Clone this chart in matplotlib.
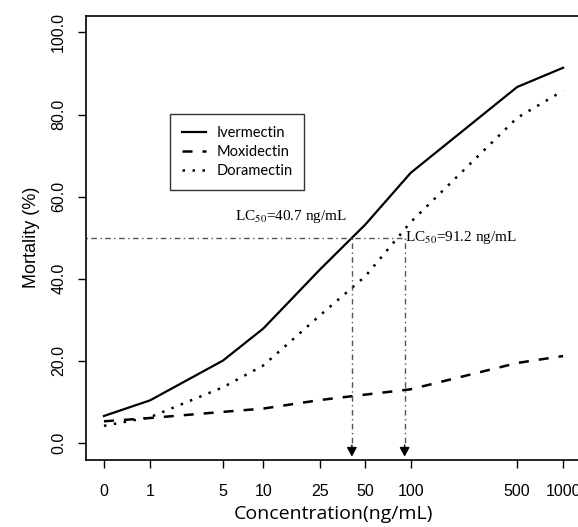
import numpy as np
import matplotlib
matplotlib.use("Agg")
import matplotlib.pyplot as plt

# ---- data ----
conc = [0, 1, 5, 10, 25, 50, 100, 500, 1000]
tick_labels = ["0", "1", "5", "10", "25", "50", "100", "500", "1000"]
ivermectin = [6.6, 10.4, 20.1, 27.9, 42.4, 53.2, 65.8, 86.7, 91.4]
moxidectin = [5.3, 6.1, 7.6, 8.4, 10.5, 11.8, 13.1, 19.5, 21.2]
doramectin = [4.2, 6.3, 13.6, 18.9, 31.2, 40.6, 53.8, 79.2, 85.8]
lc50_iver = 40.7
lc50_dora = 91.2
y_ticks = [0, 20, 40, 60, 80, 100]

plt.rcParams['mathtext.fontset'] = 'stix'

W, H = 578, 527
fig = plt.figure(figsize=(W / 100, H / 100), dpi=100)
left, right, top, bottom = 85.6, 581.4, 16.0, 459.5
ax = fig.add_axes([left / W, 1 - bottom / H, (right - left) / W, (bottom - top) / H])

tx = lambda c: np.log10(np.asarray(c, dtype=float) + 1)
x = tx(conc)

ax.plot(x, ivermectin, color='black', lw=1.6, ls='-', label='Ivermectin')
ax.plot(x, moxidectin, color='black', lw=1.8, ls=(0, (4, 4)), label='Moxidectin')
ax.plot(x, doramectin, color='black', lw=1.8, ls=(0, (1, 3)), label='Doramectin')

ax.set_xlim(-0.12, 3.12)
ax.set_ylim(-4, 104)

# LC50 guide lines
lc_col = '#555555'
dd = (0, (1, 2.5, 4, 2.5))
ax.plot([-0.12, tx(lc50_dora)], [50, 50], color=lc_col, lw=1.0, ls=dd)
for c in (lc50_iver, lc50_dora):
    xv = tx(c)
    ax.plot([xv, xv], [50, -1.5], color=lc_col, lw=1.0, ls=dd)
    ax.annotate('', xy=(xv, -3.3), xytext=(xv, -0.5),
                arrowprops=dict(arrowstyle='-|>,head_length=0.55,head_width=0.3',
                                color='black', lw=1.0, shrinkA=0, shrinkB=0))

ax.text(0.856, 54.3, r'LC$_{50}$=40.7 ng/mL', family='Liberation Serif',
        fontsize=11, ha='left', va='baseline')
ax.text(tx(lc50_dora) + 0.002, 49.3, r'LC$_{50}$=91.2 ng/mL', family='Liberation Serif',
        fontsize=11, ha='left', va='baseline')

ax.set_xticks(x)
ax.set_xticklabels(tick_labels, family='Liberation Sans', fontsize=11.5)
ax.set_yticks(y_ticks)
ax.set_yticklabels([f"{v:.1f}" for v in y_ticks], family='Liberation Sans', fontsize=11.5,
                   rotation=90, va='center')
ax.tick_params(axis='both', direction='out', length=6, width=1.0, colors='black')
ax.tick_params(axis='x', pad=12)
ax.tick_params(axis='y', pad=8)

for s in ax.spines.values():
    s.set_linewidth(1.2)

ax.set_xlabel('Concentration(ng/mL)', family='Open Sans', fontsize=14, labelpad=4)
ax.set_ylabel('Mortality (%)', family='Liberation Sans', fontsize=13, labelpad=8)

leg = ax.legend(loc='upper left', bbox_to_anchor=((170 - left) / (right - left), (bottom - 114) / (bottom - top)),
                borderaxespad=0, fancybox=False, frameon=True, edgecolor='black',
                prop={'family': 'Lato', 'size': 10.5}, handlelength=1.7, handletextpad=0.7,
                labelspacing=0.35, borderpad=0.8)
leg.get_frame().set_linewidth(1.0)

fig.savefig('out.png', dpi=100)
